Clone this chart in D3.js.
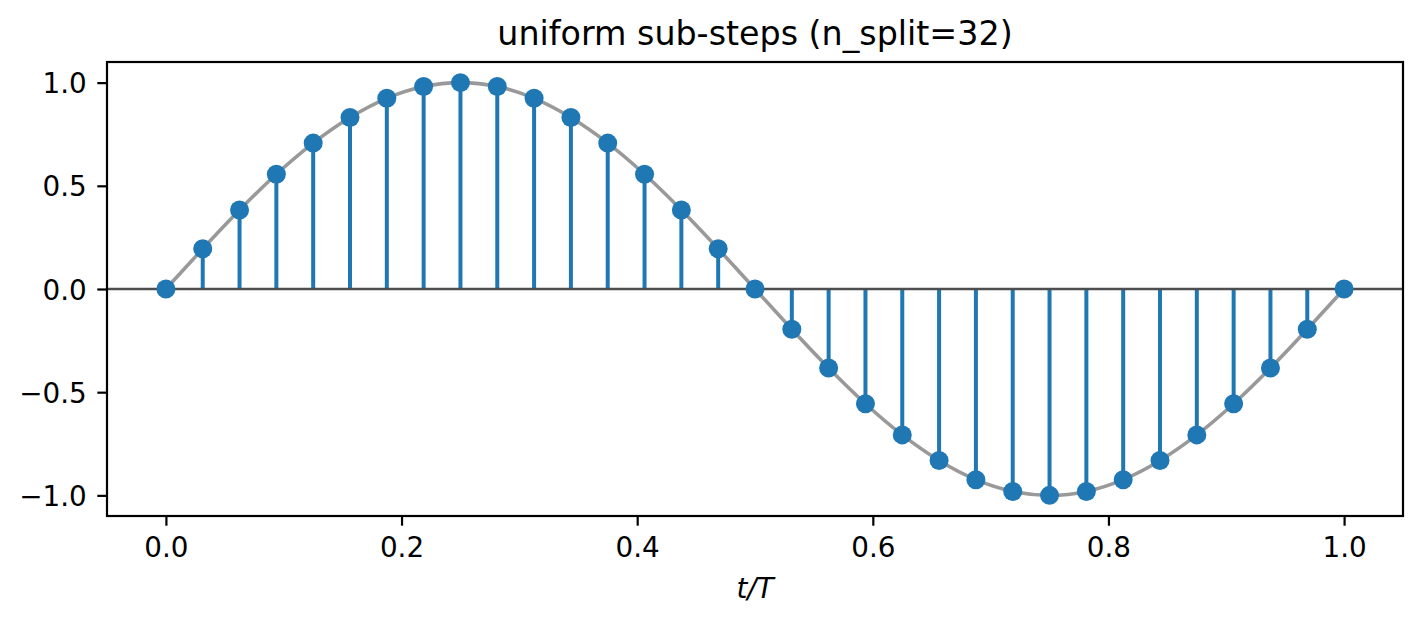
<!DOCTYPE html>
<html>
<head>
<meta charset="utf-8">
<script src="https://cdn.jsdelivr.net/npm/d3@7"></script>
<style>
  body { margin: 0; background: #fff; }
  svg { display: block; font-family: "DejaVu Sans", sans-serif; }
</style>
</head>
<body>
<div id="wrapper"></div>
<script>
// sample positions (t/T) and values
var steps = [0, 0.03125, 0.0625, 0.09375, 0.125, 0.15625, 0.1875, 0.21875, 0.25,
  0.28125, 0.3125, 0.34375, 0.375, 0.40625, 0.4375, 0.46875, 0.5,
  0.53125, 0.5625, 0.59375, 0.625, 0.65625, 0.6875, 0.71875, 0.75,
  0.78125, 0.8125, 0.84375, 0.875, 0.90625, 0.9375, 0.96875, 1];
var values = [0, 0.195, 0.383, 0.556, 0.707, 0.831, 0.924, 0.981, 1.0,
  0.981, 0.924, 0.831, 0.707, 0.556, 0.383, 0.195, 0,
  -0.195, -0.383, -0.556, -0.707, -0.831, -0.924, -0.981, -1.0,
  -0.981, -0.924, -0.831, -0.707, -0.556, -0.383, -0.195, 0];
var xTicks = [0, 0.2, 0.4, 0.6, 0.8, 1.0];
var yTicks = [-1.0, -0.5, 0, 0.5, 1.0];

var width = 1423, height = 623;
var margin = { top: 62, right: 20, bottom: 107, left: 107 };

var x = d3.scaleLinear().domain([-0.05, 1.05]).range([margin.left, width - margin.right]);
var y = d3.scaleLinear().domain([-1.1, 1.1]).range([height - margin.bottom, margin.top]);

var points = steps.map(function (t, i) { return { t: t, v: values[i] }; });

var svg = d3.select("#wrapper").append("svg")
  .attr("width", width)
  .attr("height", height);

// smooth reference curve
svg.append("path")
  .datum(points)
  .attr("fill", "none")
  .attr("stroke", "#999999")
  .attr("stroke-width", 3.6)
  .attr("d", d3.line()
    .x(function (d) { return x(d.t); })
    .y(function (d) { return y(d.v); })
    .curve(d3.curveNatural));

// stems
svg.selectAll("line.stem")
  .data(points)
  .enter().append("line")
  .attr("class", "stem")
  .attr("x1", function (d) { return x(d.t); })
  .attr("x2", function (d) { return x(d.t); })
  .attr("y1", y(0))
  .attr("y2", function (d) { return y(d.v); })
  .attr("stroke", "#1f77b4")
  .attr("stroke-width", 4);

// baseline
svg.append("line")
  .attr("x1", x.range()[0]).attr("x2", x.range()[1])
  .attr("y1", y(0)).attr("y2", y(0))
  .attr("stroke", "#4d4d4d")
  .attr("stroke-width", 2.5);

// markers
svg.selectAll("circle")
  .data(points)
  .enter().append("circle")
  .attr("cx", function (d) { return x(d.t); })
  .attr("cy", function (d) { return y(d.v); })
  .attr("r", 9.5)
  .attr("fill", "#1f77b4");

// axes
var xAxis = svg.append("g")
  .attr("transform", "translate(0," + (height - margin.bottom) + ")")
  .call(d3.axisBottom(x).tickValues(xTicks).tickFormat(d3.format(".1f"))
    .tickSize(9.7).tickPadding(9.7));
var yAxis = svg.append("g")
  .attr("transform", "translate(" + margin.left + ",0)")
  .call(d3.axisLeft(y).tickValues(yTicks).tickFormat(d3.format(".1f"))
    .tickSize(9.7).tickPadding(10.5));

[xAxis, yAxis].forEach(function (g) {
  g.select(".domain").remove();
  g.selectAll(".tick line").attr("stroke", "#000").attr("stroke-width", 2.2);
  g.selectAll(".tick text")
    .attr("fill", "#000")
    .style("font-size", "27.8px")
    .style("font-family", "DejaVu Sans");
});
xAxis.selectAll(".tick text").attr("dy", "0.76em");
yAxis.selectAll(".tick text").attr("dy", "0.36em");

// frame
svg.append("rect")
  .attr("x", margin.left)
  .attr("y", margin.top)
  .attr("width", width - margin.left - margin.right)
  .attr("height", height - margin.top - margin.bottom)
  .attr("fill", "none")
  .attr("stroke", "#000")
  .attr("stroke-width", 2.2);

// title
svg.append("text")
  .attr("x", (margin.left + width - margin.right) / 2)
  .attr("y", 45)
  .attr("text-anchor", "middle")
  .style("font-size", "33.3px")
  .text("uniform sub-steps (n_split=32)");

// x label
svg.append("text")
  .attr("x", (margin.left + width - margin.right) / 2)
  .attr("y", 598)
  .attr("text-anchor", "middle")
  .style("font-size", "27.8px")
  .style("font-style", "italic")
  .text("t/T");
</script>
</body>
</html>
